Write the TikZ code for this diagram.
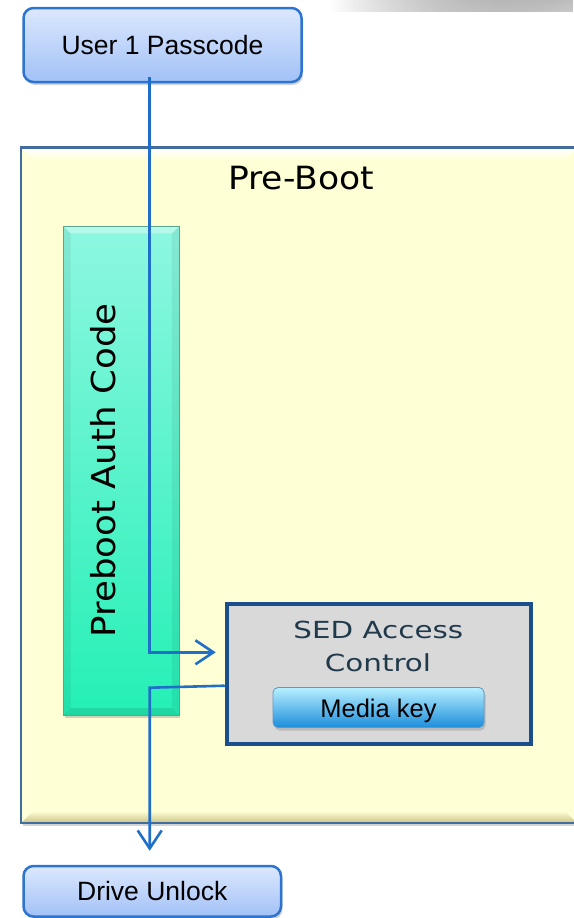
\documentclass[tikz,border=0pt]{standalone}
\usepackage{fontspec}
\setmainfont{Liberation Sans}
\newfontfamily\boxfont[FakeStretch=1.08]{DejaVu Sans}
\newfontfamily\widefont[FakeStretch=1.25]{DejaVu Sans}
\usetikzlibrary{arrows.meta,shadows,fadings}

\definecolor{flowblue}{HTML}{1F6FC8}
\definecolor{keyborder}{HTML}{2C74CF}
\definecolor{keytop}{HTML}{DCE8FD}
\definecolor{keybot}{HTML}{A2C1F7}
\definecolor{paper}{HTML}{FFFFD6}
\definecolor{paperdark}{HTML}{CFC88C}
\definecolor{paperedge}{HTML}{416E9C}
\definecolor{mint}{HTML}{8EF7E1}
\definecolor{mintdeep}{HTML}{24F0B5}
\definecolor{mintedge}{HTML}{5AA58E}
\definecolor{sedgray}{HTML}{D9D9D9}
\definecolor{sednavy}{HTML}{1B4F8C}
\definecolor{sedtext}{HTML}{203A4C}
\definecolor{mkeytop}{HTML}{B8F0FF}
\definecolor{mkeymid}{HTML}{40C0F8}
\definecolor{mkeybot}{HTML}{1C8EDC}
\definecolor{mkeyedge}{HTML}{5A9AC8}

\tikzfading[name=shadefade, left color=transparent!100, right color=transparent!30]

\begin{document}
\begin{tikzpicture}[x=1pt, y=-1pt,
  softshadow/.style={drop shadow={shadow xshift=1.5pt, shadow yshift=-3pt, opacity=.35}},
  inputbox/.style={rectangle, rounded corners=10pt, draw=keyborder, line width=2.5pt,
    top color=keytop, bottom color=keybot, softshadow,
    font=\fontsize{26.5}{30}\selectfont, text height=19pt, text depth=0pt},
  flow/.style={draw=flowblue, line width=2.6pt},
  flowtip/.style={-{Straight Barb[length=18pt, width=24pt]}}
]
\useasboundingbox (0,0) rectangle (573,918);

% faint shade along the top edge
\fill[top color=black!6, bottom color=white, path fading=shadefade] (330,0) rectangle (573,12);

% pre-boot container
\node[rectangle, fill=paper, minimum width=555pt, minimum height=675pt, anchor=north west,
      inner sep=0pt, softshadow] (preboot) at (21,147.5) {};
\shade[top color=white, bottom color=paper] (22,148.5) -- (576,148.5) -- (565,160) -- (33,160) -- cycle;
\shade[left color=paper!85!white, right color=paper] (22,148.5) -- (33,160) -- (33,811) -- (22,822) -- cycle;
\shade[top color=paper, bottom color=paperdark] (22,822) -- (33,811) -- (565,811) -- (576,822) -- cycle;
\draw[paperedge, line width=2.5pt] (preboot.north west) rectangle (preboot.south east);
\node[font=\boxfont\fontsize{32}{38}\selectfont, anchor=base] (pbtitle) at (301,189.3) {Pre-Boot};

% authentication code column
\node[rectangle, minimum width=115pt, minimum height=488.5pt, inner sep=0pt,
      top color=mint, bottom color=mintdeep, softshadow] (auth) at (121.25,470.75) {};
\fill[white, opacity=.35] (auth.north west) -- (auth.north east) -- ([xshift=-7pt,yshift=-7pt]auth.north east) -- ([xshift=7pt,yshift=-7pt]auth.north west) -- cycle;
\fill[black, opacity=.06] (auth.north west) -- ([xshift=7pt,yshift=-7pt]auth.north west) -- ([xshift=7pt,yshift=7pt]auth.south west) -- (auth.south west) -- cycle;
\fill[black, opacity=.06] (auth.north east) -- ([xshift=-7pt,yshift=-7pt]auth.north east) -- ([xshift=-7pt,yshift=7pt]auth.south east) -- (auth.south east) -- cycle;
\fill[black, opacity=.10] (auth.south west) -- ([xshift=7pt,yshift=7pt]auth.south west) -- ([xshift=-7pt,yshift=7pt]auth.south east) -- (auth.south east) -- cycle;
\draw[mintedge, line width=.8pt] (auth.north west) rectangle (auth.south east);
\node[rotate=90, font=\boxfont\fontsize{33}{40}\selectfont, text height=24pt, text depth=0pt]
      (authtext) at (103,470.5) {Preboot Auth Code};

% SED access control block
\node[rectangle, draw=sednavy, line width=4.5pt, fill=sedgray,
      minimum width=304pt, minimum height=140.3pt, inner sep=0pt] (sed) at (379,673.9) {};
\node[font=\widefont\fontsize{23.5}{28}\selectfont, text=sedtext, anchor=base] (sedline1) at (378.3,638.3) {SED Access};
\node[font=\widefont\fontsize{23.5}{28}\selectfont, text=sedtext, anchor=base] (sedline2) at (378,671) {Control};
\node[rectangle, rounded corners=5pt, draw=mkeyedge, line width=.8pt,
      top color=mkeytop, middle color=mkeymid, bottom color=mkeybot, softshadow,
      minimum width=211pt, minimum height=40pt, inner sep=0pt] (mkey) at (378.5,707.5) {};
\node[font=\fontsize{25.5}{30}\selectfont, anchor=base] (mkeytext) at (378.5,717.7) {Media key};

% input and output
\node[inputbox, minimum width=278pt, minimum height=74pt] (pass) at (162.5,45) {User 1 Passcode};
\node[inputbox, minimum width=257.5pt, minimum height=50.5pt] (unlock) at (152.25,891.25) {Drive Unlock};

% connectors
\coordinate (passout) at (149.3,77);
\coordinate (sedin) at ([xshift=-9pt, yshift=21.6pt]sed.west);
\coordinate (sedout) at ([yshift=-11.8pt]sed.west);
\coordinate (turn) at (149.7,687.7);
\draw[flow, flowtip] (passout) |- (sedin);
\draw[flow, flowtip] (sedout) -- (turn) -- ([yshift=14pt]unlock.north -| turn);
\end{tikzpicture}
\end{document}
